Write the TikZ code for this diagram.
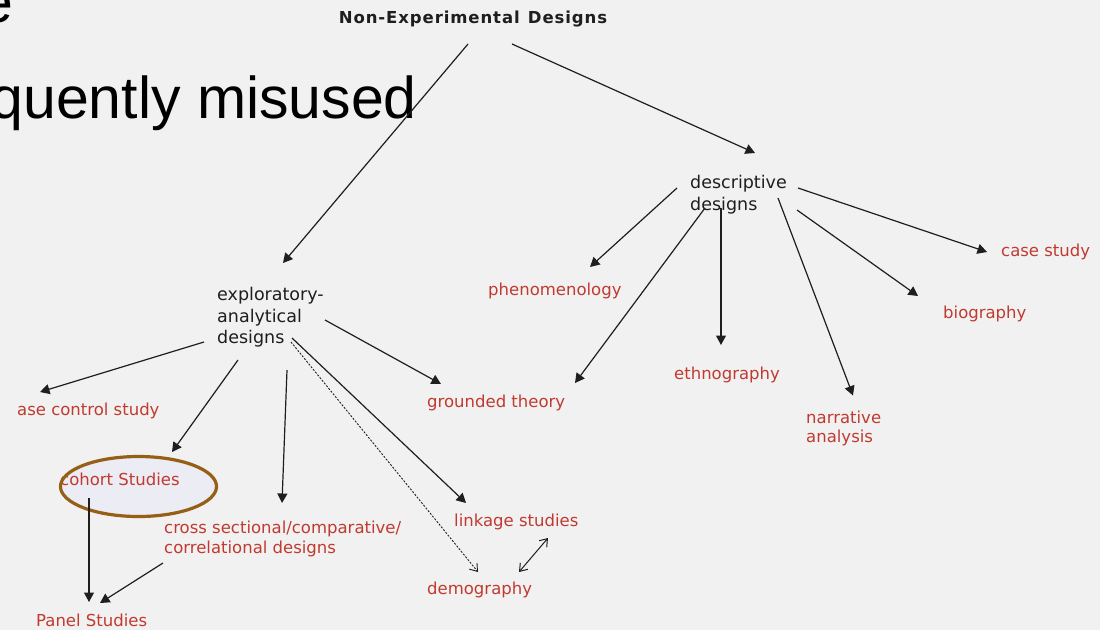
\documentclass[tikz,border=0pt]{standalone}
\usepackage{fontspec}
\setmainfont{DejaVu Sans}
\newfontfamily\slidefont{Liberation Sans}
\usetikzlibrary{arrows.meta}
\definecolor{bg}{RGB}{241,241,241}
\definecolor{lbl}{RGB}{192,58,48}
\definecolor{ink}{RGB}{30,30,30}
\definecolor{ringc}{RGB}{150,95,22}
\definecolor{ringfill}{RGB}{236,236,244}
\begin{document}
\begin{tikzpicture}[x=1pt,y=-1pt,
  head/.style={text=ink, font=\fontsize{17.5}{22}\selectfont, inner sep=0pt, align=left, anchor=north west},
  leaf/.style={text=lbl, font=\fontsize{16.5}{20}\selectfont, inner sep=0pt, anchor=base west},
  leafml/.style={text=lbl, font=\fontsize{16.5}{20}\selectfont, inner sep=0pt, align=left, anchor=north west},
  arr/.style={draw=ink, line width=1.2pt, -{Triangle[length=9.5pt,width=10pt]}},
  dotarr/.style={draw=ink, line width=0.9pt, dash pattern=on 2pt off 1.5pt, -{Straight Barb[length=7pt,width=10pt]}},
  duoarr/.style={draw=ink, line width=1pt, {Straight Barb[length=7pt,width=10pt]}-{Straight Barb[length=7pt,width=10pt]}},
  slide/.style={text=black, font=\slidefont\fontsize{59}{62}\selectfont, inner sep=0pt, anchor=base east}
]
\useasboundingbox (0,0) rectangle (1100,630);
\fill[bg] (0,0) rectangle (1100,630);
\clip (0,0) rectangle (1100,630);

% slide text lying underneath the chart
\node[slide] (slideA) at (14,22) {e};
\node[slide] (slideB) at (417,118) {quently misused};

% highlight ring behind "cohort Studies"
\fill[ringfill] (138.5,486.5) ellipse [x radius=78, y radius=30];

% heading and design families
\node[text=ink, font=\bfseries\fontsize{16.5}{20}\selectfont\addfontfeature{LetterSpace=5.5}, inner sep=0pt, anchor=base] (top) at (473,23) {Non-Experimental\enspace Designs};
\node[head] (desc) at (690,175) {descriptive\\designs};
\node[head, font=\fontsize{17.5}{21.5}\selectfont] (expl) at (217,287) {exploratory-\\analytical\\designs};

% descriptive designs
\node[leaf] (phen) at (488,295) {phenomenology};
\node[leaf] (ground) at (427,407) {grounded theory};
\node[leaf] (ethno) at (674,379) {ethnography};
\node[leafml, font=\fontsize{16.5}{19.5}\selectfont] (narr) at (806,410.5) {narrative\\analysis};
\node[leaf] (bio) at (943,318) {biography};
\node[leaf] (case) at (1001,256) {case study};

% exploratory-analytical designs
\node[leaf] (ccs) at (17,415) {ase control study};
\node[leaf] (cohort) at (60,485) {cohort Studies};
\node[leafml] (cross) at (164,520.5) {cross sectional/comparative/\\correlational designs};
\node[leaf] (link) at (454,526) {linkage studies};
\node[leaf] (demo) at (427,594) {demography};
\node[leaf] (panel) at (36,626) {Panel Studies};

% ring outline
\draw[ringc, line width=3.2pt] (138.5,486.5) ellipse [x radius=78, y radius=30];

% connectors
\draw[arr] ([shift={(-5,21)}]top.base) -- ([shift={(66,-24)}]expl.north west);
\draw[arr] ([shift={(39,21)}]top.base) -- ([shift={(65,-22)}]desc.north west);

\draw[arr] ([shift={(-13,13)}]desc.north west) -- ([shift={(102,-28)}]phen.base west);
\draw[arr] ([shift={(15,33)}]desc.north west) -- ([shift={(148,-24)}]ground.base west);
\draw[arr] ([shift={(31,33)}]desc.north west) -- ([shift={(47,-34)}]ethno.base west);
\draw[arr] ([shift={(88,23)}]desc.north west) -- ([shift={(47,-15)}]narr.north west);
\draw[arr] ([shift={(107,35)}]desc.north west) -- ([shift={(-25,-22)}]bio.base west);
\draw[arr] ([shift={(108,13)}]desc.north west) -- ([shift={(-14,-4)}]case.base west);

\draw[arr] ([shift={(-13,55)}]expl.north west) -- ([shift={(23,-23)}]ccs.base west);
\draw[arr] ([shift={(21,73)}]expl.north west) -- ([shift={(112,-33)}]cohort.base west);
\draw[arr] ([shift={(70,83)}]expl.north west) -- ([shift={(118,-17.5)}]cross.north west);
\draw[arr] ([shift={(108,33)}]expl.north west) -- ([shift={(14,-23)}]ground.base west);
\draw[arr] ([shift={(75,51)}]expl.north west) -- ([shift={(12,-23)}]link.base west);
\draw[dotarr] ([shift={(74,55)}]expl.north west) -- ([shift={(51,-22)}]demo.base west);
\draw[duoarr] ([shift={(92,-22)}]demo.base west) -- ([shift={(94,12)}]link.base west);

\draw[arr] ([shift={(29,13)}]cohort.base west) -- ([shift={(53,-24)}]panel.base west);
\draw[arr] ([shift={(-1,42.5)}]cross.north west) -- ([shift={(64,-23)}]panel.base west);
\end{tikzpicture}
\end{document}
